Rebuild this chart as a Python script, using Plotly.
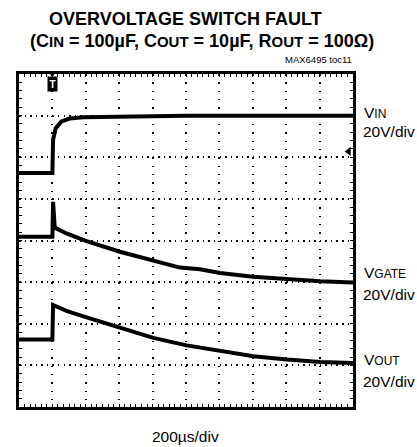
import plotly.graph_objects as go

# ---- data (x in time divisions, y in vertical divisions; 200us/div, 20V/div) ----
vin_x = [0.0, 0.99, 1.0, 1.02, 1.10, 1.27, 1.52, 1.92, 3.0, 4.0, 5.0, 6.0, 7.0, 8.0, 9.0, 10.0]
vin_y = [5.62, 5.62, 5.62, 6.42, 6.70, 6.86, 6.93, 6.96, 6.98, 6.99, 7.0, 7.0, 7.0, 7.0, 7.0, 7.0]

vgate_x = [0.0, 0.99, 1.0, 1.02, 1.07, 1.42, 2.0, 3.02, 4.02, 4.82, 5.42, 6.02, 7.01, 8.02, 9.02, 10.0]
vgate_y = [4.09, 4.09, 4.09, 4.93, 4.31, 4.17, 3.99, 3.73, 3.53, 3.35, 3.31, 3.22, 3.13, 3.07, 3.02, 2.99]

vout_x = [0.0, 0.99, 1.0, 1.02, 1.42, 2.0, 3.02, 4.02, 5.02, 6.02, 7.02, 8.02, 9.02, 10.0]
vout_y = [1.62, 1.62, 1.62, 2.45, 2.31, 2.16, 1.92, 1.66, 1.48, 1.34, 1.22, 1.14, 1.08, 1.06]

trigger_x = 1.0
ground_marker_y = 6.14

SUB = "<span style='font-size:12px'>{}</span>"
labels = [("V" + SUB.format("IN"), "20V/div", 7.07, 6.63),
          ("V" + SUB.format("GATE"), "20V/div", 3.23, 2.71),
          ("V" + SUB.format("OUT"), "20V/div", 1.15, 0.61)]

TSUB = "<span style='font-size:15px'>{}</span>"
title1 = "<b>OVERVOLTAGE SWITCH FAULT</b>"
title2 = ("<b>(C" + TSUB.format("IN") + " = 100µF, C" + TSUB.format("OUT")
          + " = 10µF, R" + TSUB.format("OUT") + " = 100Ω)</b>")
code_label = "MAX6495 toc11"
x_label = "200µs/div"

# ---- layout geometry ----
W, H = 417, 447
L, R, T, B = 19, 64, 74, 40
PW, PH = W - L - R, H - T - B
FONT = "Liberation Sans, Arial, Helvetica, sans-serif"


def px_x(px):
    return (px - L) / PW


def px_y(py):
    return (H - B - py) / PH


fig = go.Figure()
for xs, ys in [(vin_x, vin_y), (vgate_x, vgate_y), (vout_x, vout_y)]:
    fig.add_trace(go.Scatter(x=xs, y=ys, mode="lines",
                             line=dict(color="black", width=4),
                             showlegend=False, hoverinfo="skip"))

# trigger marker (top) and ground reference arrow (right)
fig.add_trace(go.Scatter(x=[trigger_x], y=[8.0], mode="markers",
                         marker=dict(symbol="triangle-down", size=6, color="black"),
                         cliponaxis=False, showlegend=False, hoverinfo="skip"))
fig.add_trace(go.Scatter(x=[9.87], y=[ground_marker_y], mode="markers",
                         marker=dict(symbol="triangle-left", size=8, color="black"),
                         cliponaxis=False, showlegend=False, hoverinfo="skip"))
fig.add_annotation(x=trigger_x, y=7.76, xref="x", yref="y", text="<b>T</b>",
                   showarrow=False, font=dict(family=FONT, size=10, color="white"),
                   bgcolor="black", borderpad=1.5)

ann_font = dict(family=FONT, size=15.5, color="black")
for top, bot, y1, y2 in labels:
    fig.add_annotation(x=px_x(362), y=y1, xref="paper", yref="y", text=top,
                       showarrow=False, xanchor="left", yanchor="middle", font=ann_font)
    fig.add_annotation(x=px_x(361), y=y2, xref="paper", yref="y", text=bot,
                       showarrow=False, xanchor="left", yanchor="middle", font=ann_font)

fig.add_annotation(x=px_x(185), y=px_y(19), xref="paper", yref="paper", text=title1,
                   showarrow=False, xanchor="center", yanchor="middle",
                   font=dict(family=FONT, size=18, color="black"))
fig.add_annotation(x=px_x(202), y=px_y(41), xref="paper", yref="paper", text=title2,
                   showarrow=False, xanchor="center", yanchor="middle",
                   font=dict(family=FONT, size=18, color="black"))
fig.add_annotation(x=px_x(354), y=px_y(59), xref="paper", yref="paper", text=code_label,
                   showarrow=False, xanchor="right", yanchor="middle",
                   font=dict(family=FONT, size=9.5, color="black"))
fig.add_annotation(x=px_x(185), y=px_y(436), xref="paper", yref="paper", text=x_label,
                   showarrow=False, xanchor="center", yanchor="middle",
                   font=dict(family=FONT, size=15.5, color="black"))

fig.update_xaxes(range=[0, 10], dtick=1, tick0=0, showticklabels=False,
                 showgrid=True, gridcolor="black", gridwidth=1.5, griddash="1.5px,6.83px",
                 showline=True, linecolor="black", linewidth=3, mirror="ticks",
                 ticks="inside", ticklen=3, tickcolor="black", tickwidth=1,
                 minor=dict(dtick=1/6, tick0=0, ticks="inside", ticklen=3,
                            tickcolor="black", tickwidth=1, showgrid=False),
                 zeroline=False, fixedrange=True)
fig.update_yaxes(range=[0, 8], dtick=1, tick0=0, showticklabels=False,
                 showgrid=True, gridcolor="black", gridwidth=1.5, griddash="1.5px,4.07px",
                 showline=True, linecolor="black", linewidth=3, mirror="ticks",
                 ticks="inside", ticklen=3, tickcolor="black", tickwidth=1,
                 minor=dict(dtick=0.2, tick0=0, ticks="inside", ticklen=3,
                            tickcolor="black", tickwidth=1, showgrid=False),
                 zeroline=False, fixedrange=True)

fig.update_layout(width=W, height=H, margin=dict(l=L, r=R, t=T, b=B),
                  paper_bgcolor="white", plot_bgcolor="white", showlegend=False)

fig.write_html("out.html", config={"displayModeBar": False},
               post_script="document.body.style.margin='0';document.body.style.overflow='hidden';")
